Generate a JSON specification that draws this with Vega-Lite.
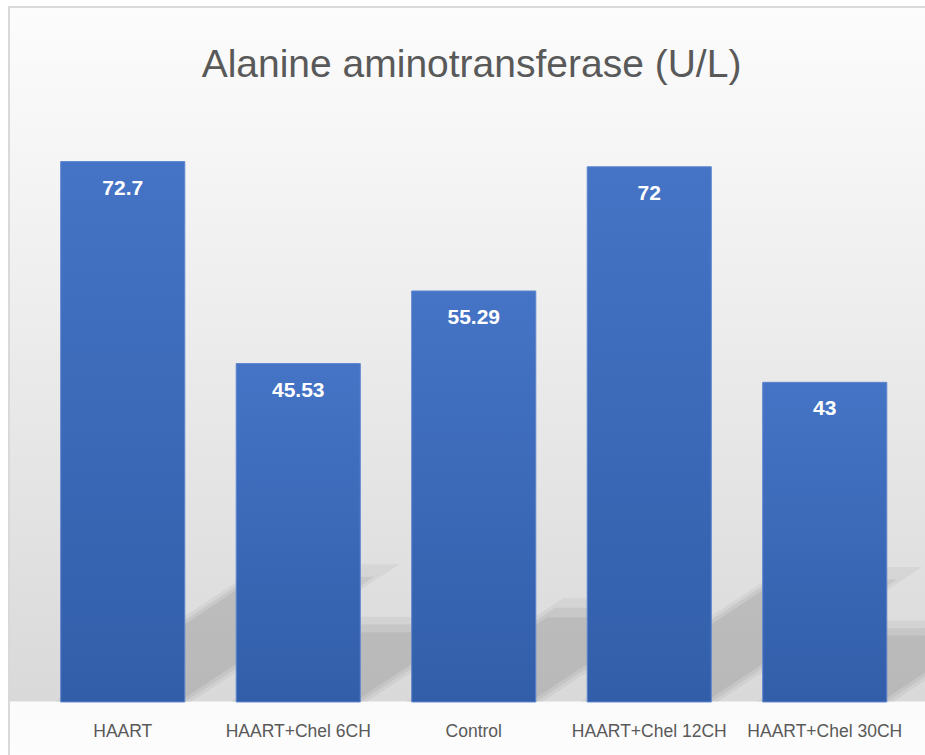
{
  "$schema": "https://vega.github.io/schema/vega-lite/v6.json",
  "autosize": {"type": "none"},
  "width": 925,
  "height": 760,
  "padding": {"left": 9, "top": 7, "right": 0, "bottom": 0},
  "background": "#ffffff",
  "config": {
    "view": {
      "stroke": "#d9d9d9",
      "strokeWidth": 2,
      "fill": {
        "gradient": "linear", "x1": 0, "y1": 0, "x2": 0, "y2": 1,
        "stops": [
          {"offset": 0, "color": "#fcfcfc"},
          {"offset": 0.15, "color": "#f7f7f7"},
          {"offset": 0.913, "color": "#d9d9d9"},
          {"offset": 0.9145, "color": "#fbfbfb"},
          {"offset": 1, "color": "#fdfdfd"}
        ]
      }
    }
  },
  "title": {
    "text": "Alanine aminotransferase (U/L)",
    "font": "Liberation Sans",
    "fontSize": 39,
    "fontWeight": "normal",
    "color": "#595959",
    "anchor": "middle",
    "baseline": "alphabetic",
    "offset": -63,
    "dy": 46
  },
  "data": {
    "values": [
      {"group": "HAART", "value": 72.7},
      {"group": "HAART+Chel 6CH", "value": 45.53},
      {"group": "Control", "value": 55.29},
      {"group": "HAART+Chel 12CH", "value": 72},
      {"group": "HAART+Chel 30CH", "value": 43}
    ]
  },
  "encoding": {
    "x": {
      "field": "group", "type": "nominal", "sort": null,
      "scale": {"type": "band", "range": [26, 903.5], "paddingInner": 0.293, "paddingOuter": 0.1465},
      "axis": {
        "title": null, "domain": false, "ticks": false, "tickSize": 0, "labelAngle": 0,
        "labelFont": "Liberation Sans", "labelFontSize": 17.5, "labelColor": "#595959",
        "labelPadding": 0, "labelBaseline": "alphabetic", "offset": -30.3, "zindex": 1, "grid": false
      }
    },
    "y": {"field": "value", "type": "quantitative", "scale": {"domain": [-8.75, 93.5], "nice": false, "zero": false}, "axis": null}
  },
  "layer": [
    {
      "mark": {"type": "point", "filled": true, "size": 12455, "color": "#000000", "opacity": 0.055, "strokeWidth": 0},
      "encoding": {
        "y": {"datum": 0, "type": "quantitative"},
        "shape": {
          "field": "group", "type": "nominal", "legend": null,
          "scale": {
            "domain": ["HAART", "HAART+Chel 6CH", "Control", "HAART+Chel 12CH", "HAART+Chel 30CH"],
            "range": [
              "M -1 0 L 1 0 L 4.06 -2.02 L 2.06 -2.02 Z",
              "M -1 0 L 1 0 L 2.9 -1.25 L 0.9 -1.25 Z",
              "M -1 0 L 1 0 L 3.31 -1.52 L 1.31 -1.52 Z",
              "M -1 0 L 1 0 L 4.0 -1.98 L 2.0 -1.98 Z",
              "M -1 0 L 1 0 L 2.79 -1.19 L 0.79 -1.19 Z"
            ]
          }
        }
      }
    },
    {
      "mark": {"type": "point", "filled": true, "size": 15376, "color": "#000000", "opacity": 0.055, "strokeWidth": 0},
      "encoding": {
        "y": {"datum": 0, "type": "quantitative"},
        "shape": {"field": "group", "type": "nominal", "legend": null}
      }
    },
    {
      "mark": {"type": "point", "filled": true, "size": 18605, "color": "#000000", "opacity": 0.045, "strokeWidth": 0},
      "encoding": {
        "y": {"datum": 0, "type": "quantitative"},
        "shape": {"field": "group", "type": "nominal", "legend": null}
      }
    },
    {
      "mark": {
        "type": "bar",
        "stroke": "#5d85cf",
        "strokeWidth": 1,
        "fill": {
          "gradient": "linear", "x1": 0, "y1": 0, "x2": 0, "y2": 1,
          "stops": [
            {"offset": 0, "color": "#4574c6"},
            {"offset": 1, "color": "#325ea9"}
          ]
        }
      },
      "encoding": {"y2": {"datum": 0}}
    },
    {
      "mark": {
        "type": "text", "color": "#ffffff", "font": "Liberation Sans", "fontWeight": "bold",
        "fontSize": 21, "baseline": "alphabetic", "dy": 33
      },
      "encoding": {"text": {"field": "value", "type": "nominal"}}
    }
  ]
}
